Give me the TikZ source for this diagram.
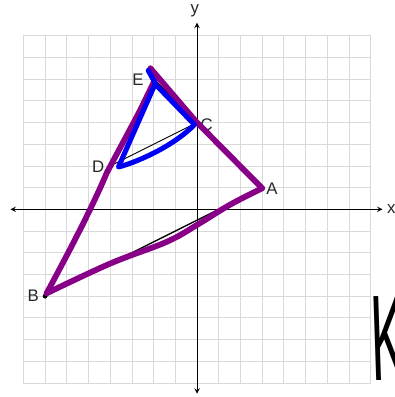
\documentclass[tikz,border=0pt]{standalone}
\usepackage{fontspec}
\setmainfont{Liberation Sans}
\definecolor{penpurple}{RGB}{136,0,136}
\definecolor{penblue}{RGB}{0,0,245}

\begin{document}
\begin{tikzpicture}[x=0.5cm, y=0.5cm, >=stealth,
  lbl/.style={font=\fontsize{11}{13}\selectfont, text=black!85, inner sep=1pt},
  marker/.style={line width=3.8pt, line cap=round, line join=round}]
  \useasboundingbox (-9.08,-8.65) rectangle (9.12,9.645);

  % grid paper
  \draw[gray!30, line width=0.5pt, step=0.5cm] (-8,-8) grid (8,8);

  % axes
  \draw[<->, line width=0.6pt] (-8.6,0) -- (8.55,0);
  \draw[<->, line width=0.6pt] (0,-8.5) -- (0,8.6);
  \node[lbl] (xlab) at (8.95,0) {x};
  \node[lbl] (ylab) at (-0.1,9.15) {y};

  % vertices
  \coordinate (A) at (3,1);
  \coordinate (B) at (-7,-4);
  \coordinate (C) at (0,4);
  \coordinate (D) at (-4,2);
  \coordinate (E) at (-2,6);

  % printed triangle and segment DC
  \draw[line width=0.9pt] (A) -- (B) -- (E) -- cycle;
  \draw[line width=0.6pt] (D) -- (C);
  \fill (B) circle (1.6pt);

  % vertex labels
  \node[lbl] (lblA) at (3.45,0.97) {A};
  \node[lbl] (lblB) at (-7.55,-4.0) {B};
  \node[lbl] (lblC) at (0.45,3.88) {C};
  \node[lbl] (lblD) at (-4.55,1.96) {D};
  \node[lbl] (lblE) at (-2.72,5.96) {E};

  % purple pen over the big triangle
  \draw[penpurple, marker]
    (-2.15,6.5) -- (-0.05,4.05) -- (3,0.97);
  \draw[penpurple, marker, smooth, tension=0.6]
    plot coordinates {(3,0.97) (1.5,0.2) (0,-0.72) (-1.4,-1.5)
      (-4,-2.5) (-6.93,-3.87)};
  \draw[penpurple, marker]
    (-6.93,-3.87) .. controls (-6.2,-2.5) and (-5,-0.3) .. (-4.15,1.7)
    -- (-2.6,4.6) -- (-1.95,5.95);

  % blue pen over the small triangle
  \draw[penblue, line width=3.3pt, line cap=round, line join=round]
    (-2.25,6.4) -- (-1.92,5.8) -- (-3.62,1.95)
    .. controls (-3.0,2.1) and (-1.2,2.8) .. (-0.12,3.9)
    -- (-1.88,5.72);

  % handwritten letter
  \node[font=\fontsize{80}{80}\selectfont, xscale=0.42, xslant=-0.08,
    anchor=base west, inner sep=0pt] (kmark) at (8.1,-7.87) {K};
\end{tikzpicture}
\end{document}
